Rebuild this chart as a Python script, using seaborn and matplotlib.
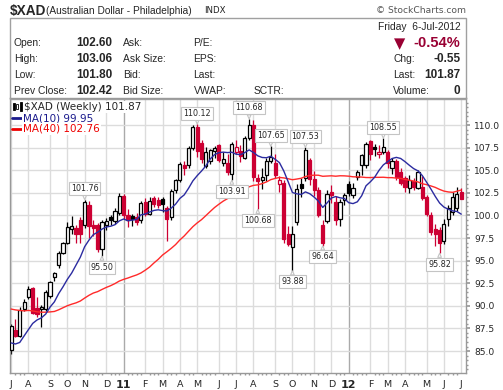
import numpy as np
import pandas as pd
import seaborn as sns
import matplotlib.pyplot as plt
from matplotlib.patches import Rectangle

# --- Data: weekly bars of $XAD, week starting Monday ---
weeks = pd.date_range("2010-07-05", periods=105, freq="W-MON")

opens = [85.1, 87.3, 86.7, 89.6, 91.0, 92.0, 89.8, 89.6, 89.7, 91.1,
         93.2, 94.5, 95.9, 97.0, 98.5, 98.6, 99.5, 98.9, 101.2, 99.0,
         98.9, 96.3, 99.0, 99.8, 99.4, 100.3, 102.2, 100.0, 99.9, 99.8,
         99.5, 101.5, 100.2, 101.9, 101.7, 101.8, 100.8, 99.8, 102.8, 103.9,
         105.6, 105.6, 107.5, 109.8, 108.0, 105.5, 106.0, 107.1, 107.8, 105.8,
         105.8, 104.6, 107.05, 107.1, 106.4, 108.6, 110.0, 104.2, 103.9, 104.5,
         106.0, 105.8, 103.5, 103.6, 97.9, 96.5, 99.3, 103.5, 104.1, 106.1,
         104.0, 102.8, 98.9, 99.4, 102.6, 101.5, 99.6, 101.7, 103.5, 102.3,
         104.3, 105.6, 105.6, 108.2, 107.6, 106.8, 107.05, 107.0, 105.2, 106.0,
         104.8, 104.1, 103.0, 103.8, 103.0, 103.2, 102.0, 100.1, 98.5, 98.4,
         97.2, 99.6, 100.4, 100.8, 102.60]
highs = [88.0, 88.6, 89.9, 90.75, 92.2, 92.1, 91.0, 90.1, 91.7, 92.7,
         93.8, 96.1, 97.1, 99.3, 99.9, 98.9, 99.8, 101.76, 101.6, 99.5,
         99.2, 99.5, 99.7, 100.0, 100.8, 102.5, 102.4, 100.7, 100.2, 100.3,
         101.6, 101.9, 102.0, 102.2, 102.0, 102.0, 101.0, 102.9, 104.0, 105.9,
         106.0, 107.7, 110.0, 110.12, 108.3, 107.6, 107.4, 107.7, 107.9, 107.0,
         106.8, 108.1, 108.3, 107.8, 108.8, 110.68, 110.6, 104.6, 105.2, 106.4,
         107.65, 106.8, 104.4, 103.9, 98.8, 98.8, 103.5, 104.1, 107.53, 106.4,
         104.9, 103.1, 99.5, 102.8, 103.4, 102.2, 101.8, 102.5, 103.8, 103.6,
         105.0, 106.8, 108.1, 108.4, 107.9, 107.8, 108.55, 107.3, 106.4, 106.3,
         105.3, 104.4, 104.5, 104.1, 105.0, 104.4, 102.3, 100.4, 99.1, 98.7,
         99.6, 101.2, 102.6, 103.2, 103.06]
lows = [84.7, 86.6, 86.5, 89.4, 90.8, 89.1, 88.8, 87.7, 89.4, 90.9,
        92.8, 94.2, 95.7, 96.8, 98.0, 96.9, 97.0, 98.6, 97.5, 97.7,
        96.0, 95.5, 98.4, 98.9, 99.1, 100.1, 99.6, 98.7, 98.8, 98.9,
        99.2, 99.9, 100.0, 100.9, 100.8, 100.4, 97.2, 99.5, 102.5, 103.7,
        104.5, 105.3, 107.3, 106.5, 105.8, 105.3, 105.7, 106.4, 105.9, 105.5,
        104.5, 103.91, 106.8, 105.9, 106.2, 108.4, 103.8, 100.68, 102.9, 103.8,
        105.8, 104.2, 102.6, 96.9, 96.6, 93.88, 99.0, 102.0, 103.8, 103.4,
        102.2, 99.8, 96.64, 99.2, 101.4, 98.9, 98.8, 101.2, 102.2, 101.9,
        103.9, 104.5, 105.3, 106.1, 106.6, 106.4, 106.8, 105.3, 104.6, 103.9,
        103.4, 102.6, 102.5, 102.8, 102.9, 101.7, 99.9, 97.8, 96.6, 95.82,
        96.8, 98.8, 100.0, 100.5, 101.80]
closes = [87.8, 86.7, 89.5, 90.45, 91.85, 89.2, 89.1, 89.9, 91.5, 92.6,
          93.6, 95.9, 97.0, 98.7, 98.8, 98.0, 97.9, 101.5, 98.8, 98.6,
          96.3, 99.3, 99.4, 99.5, 100.5, 102.2, 100.0, 99.5, 99.6, 99.3,
          101.4, 100.2, 101.6, 101.3, 101.2, 101.3, 99.6, 102.7, 103.9, 105.7,
          105.3, 107.5, 109.8, 107.1, 106.3, 107.0, 107.2, 107.5, 106.1, 106.3,
          104.8, 107.9, 107.6, 106.6, 108.6, 110.0, 104.3, 103.8, 104.3, 106.0,
          106.5, 104.5, 103.9, 97.4, 96.8, 97.9, 102.9, 103.0, 107.2, 104.0,
          102.8, 100.0, 96.9, 102.4, 102.25, 99.5, 101.5, 102.3, 102.5, 103.0,
          104.8, 106.7, 107.9, 106.8, 107.35, 107.05, 107.6, 105.8, 106.0, 104.3,
          103.6, 103.2, 103.9, 103.1, 104.8, 101.9, 100.2, 98.2, 97.9, 97.0,
          99.1, 100.8, 102.1, 102.42, 101.87]

# closes of the 39 weeks before the first bar (needed by the moving averages)
prior_closes = [90.5, 91.9, 92.3, 89.9, 91.4, 93.0, 91.8, 91.2, 91.5, 91.6,
                88.5, 87.9, 89.8, 92.0, 92.2, 89.7, 88.4, 86.6, 88.6, 90.0,
                89.7, 90.4, 91.8, 91.2, 91.1, 92.5, 93.4, 92.6, 92.8, 92.6,
                87.9, 87.8, 83.3, 84.8, 82.3, 85.3, 87.6, 87.3, 84.9]

callouts = [(17, "101.76", "up"), (21, "95.50", "down"), (43, "110.12", "up"),
            (51, "103.91", "down"), (55, "110.68", "up"), (57, "100.68", "down"),
            (60, "107.65", "up"), (65, "93.88", "down"), (68, "107.53", "up"),
            (72, "96.64", "down"), (86, "108.55", "up"), (99, "95.82", "down")]

df = pd.DataFrame({"open": opens, "high": highs, "low": lows, "close": closes})
df["idx"] = np.arange(len(df))
all_c = pd.Series(prior_closes + closes)
df["ma10"] = all_c.rolling(10).mean().iloc[len(prior_closes):].values
df["ma40"] = all_c.rolling(40).mean().iloc[len(prior_closes):].values
df["prev"] = [prior_closes[-1]] + closes[:-1]

RED = "#cc0033"
sns.set_theme(style="white")
plt.rcParams["font.family"] = ["DejaVu Sans"]

W, H = 503, 390
fig = plt.figure(figsize=(W / 100, H / 100), dpi=100)
fx = lambda x: x / W
fy = lambda y: 1 - y / H

# --- header ---
fig.text(fx(9.5), fy(10.5), "$XAD", fontsize=9.8, fontweight="bold", family="Liberation Sans", va="center")
fig.text(fx(46.5), fy(10.5), "(Australian Dollar - Philadelphia)", fontsize=7.3, family="Liberation Sans", va="center")
fig.text(fx(204), fy(10.5), "INDX", fontsize=6.2, va="center", color="#222222")
fig.text(fx(466), fy(10.5), "\u00a9 StockCharts.com", fontsize=6.6, va="center", ha="right", color="#555555")
fig.patches.append(Rectangle((fx(9.5), fy(99)), (465.7 - 9.5) / W, (99 - 18.3) / H,
                             transform=fig.transFigure, fill=False, ec="#a0a0a0", lw=1))

hdr = dict(fontsize=7.4, family="Liberation Sans", va="center")
val = dict(fontsize=8.5, family="Liberation Sans", fontweight="bold", va="center", ha="right")
rows_y = [43, 59, 75, 91]
for y, a, b, c, d in zip(rows_y, ["Open:", "High:", "Low:", "Prev Close:"],
                         ["102.60", "103.06", "101.80", "102.42"],
                         ["Ask:", "Ask Size:", "Bid:", "Bid Size:"],
                         ["P/E:", "EPS:", "Last:", "VWAP:"]):
    fig.text(fx(14), fy(y), a, **hdr)
    fig.text(fx(112.3), fy(y), b, **val)
    fig.text(fx(123), fy(y), c, **hdr)
    fig.text(fx(193.5), fy(y), d, **hdr)
fig.text(fx(253.5), fy(91), "SCTR:", **hdr)
fig.text(fx(460.5), fy(26.5), "Friday  6-Jul-2012", ha="right", **hdr)
fig.text(fx(394), fy(43.5), "\u25bc", fontsize=10.5, color="#990033", va="center")
fig.text(fx(460.5), fy(43), "-0.54%", fontsize=10.5, family="Liberation Sans", fontweight="bold",
         color="#990033", va="center", ha="right")
for y, a, b in zip(rows_y[1:], ["Chg:", "Last:", "Volume:"], ["-0.55", "101.87", "0"]):
    fig.text(fx(393), fy(y), a, **hdr)
    fig.text(fx(460.5), fy(y), b, **val)

# --- price panel ---
ax = fig.add_axes([fx(10), fy(373), (466 - 10) / W, (373 - 98) / H])
ax.set_xlim(-0.25, 105.1)
ax.set_ylim(82.57, 113.0)

month_idx = [0] + [i for i in range(1, len(weeks)) if weeks[i].month != weeks[i - 1].month]
month_lab = [("%02d" % (weeks[i].year % 100)) if weeks[i].month == 1 else weeks[i].strftime("%b")[0]
             for i in month_idx]
for i in month_idx:
    ax.axvline(i, color="#aaaaaa" if weeks[i].month == 1 else "#dcdcdc", lw=1, zorder=0)
yt = np.arange(85, 110.1, 2.5)
for v in yt:
    ax.axhline(v, color="#dcdcdc", lw=1, zorder=0)

# candles: red when close < previous close, filled when close < open
for r in df.itertuples():
    edge = RED if r.close < r.prev else "black"
    face = edge if r.close < r.open else "white"
    ax.vlines(r.idx, r.low, r.high, color=edge, lw=0.9, zorder=2)
    lo, hi = min(r.open, r.close), max(r.open, r.close)
    ax.bar(r.idx, max(hi - lo, 0.12), bottom=lo, width=0.72, color=face,
           edgecolor=edge, linewidth=0.9, zorder=3)

sns.lineplot(data=df, x="idx", y="ma40", ax=ax, color="#ff2a2a", lw=1, zorder=4)
sns.lineplot(data=df, x="idx", y="ma10", ax=ax, color="#2b2ba0", lw=1, zorder=4)

for i, txt, side in callouts:
    yv = df.high[i] if side == "up" else df.low[i]
    ax.annotate(txt, xy=(i, yv), xytext=(0, 11 if side == "up" else -11),
                textcoords="offset pixels", ha="center", va="center", fontsize=5.8, zorder=6,
                bbox=dict(boxstyle="square,pad=0.25", fc="white", ec="#c4c4c4", lw=0.8),
                arrowprops=dict(arrowstyle="wedge,tail_width=0.45", fc="white", ec="#c4c4c4",
                                lw=0.8, shrinkA=0, shrinkB=0))

ax.set_xlabel("")
ax.set_ylabel("")
ax.set_xticks(month_idx)
ax.set_xticklabels(month_lab)
for t, i in zip(ax.get_xticklabels(), month_idx):
    if weeks[i].month == 1:
        t.set_fontweight("bold")
        t.set_fontsize(8)
    else:
        t.set_fontsize(6.8)
ax.set_xticks(np.arange(0, 105), minor=True)
ax.yaxis.tick_right()
ax.set_yticks(yt)
ax.set_yticklabels(["%.1f" % v for v in yt], fontsize=6.6)
ax.set_yticks(np.arange(83, 113, 0.5), minor=True)
ax.tick_params(axis="x", which="major", length=3, pad=2, color="#999999")
ax.tick_params(axis="x", which="minor", length=1.5, color="#999999", bottom=True)
ax.tick_params(axis="y", which="major", length=3, pad=3, color="#999999", right=True)
ax.tick_params(axis="y", which="minor", length=1.5, color="#999999", right=True)
for s in ax.spines.values():
    s.set_color("#999999")
    s.set_linewidth(1)

# legend block
box = dict(boxstyle="square,pad=0.1", fc="white", ec="none")
fig.text(fx(24), fy(106.7), "$XAD (Weekly) 101.87", fontsize=7.5, va="center", bbox=box, zorder=7)
fig.text(fx(23), fy(118.3), "MA(10) 99.95", fontsize=7.5, va="center", color="#1a1a8c", bbox=box, zorder=7)
fig.text(fx(23), fy(128.7), "MA(40) 102.76", fontsize=7.5, va="center", color="#ee0000", bbox=box, zorder=7)
for x0, y0, h, filled in [(12.5, 103, 7, True), (16, 104, 5, False), (19.5, 102.5, 8, True)]:
    fig.patches.append(Rectangle((fx(x0), fy(y0 + h)), 2 / W, h / H, transform=fig.transFigure,
                                 fc="black" if filled else "white", ec="black", lw=0.6, zorder=8))
fig.lines.append(plt.Line2D([fx(12), fx(22)], [fy(118.3)] * 2, transform=fig.transFigure, color="#1a1a8c", lw=2))
fig.lines.append(plt.Line2D([fx(12), fx(22)], [fy(128.7)] * 2, transform=fig.transFigure, color="#ee0000", lw=2))

fig.savefig("out.png", dpi=100)
